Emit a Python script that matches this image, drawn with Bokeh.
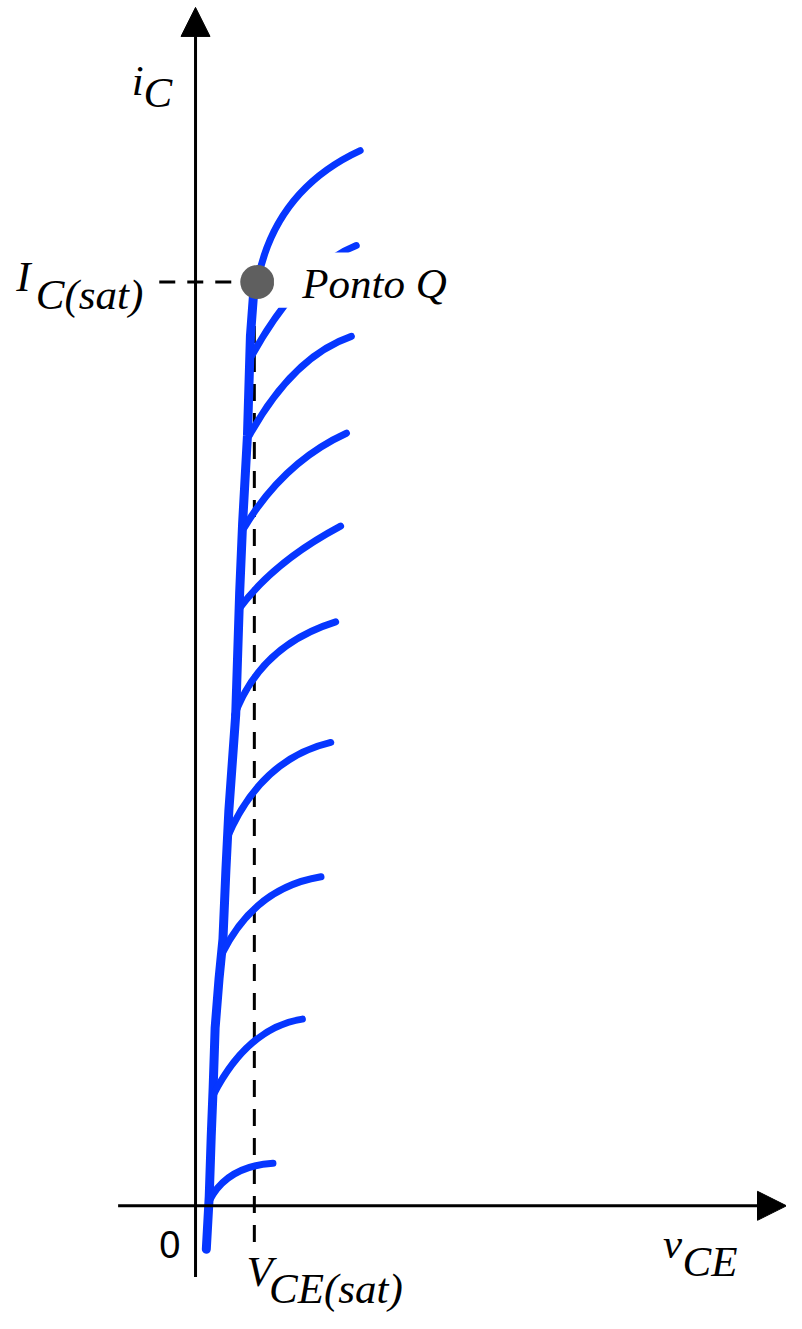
from bokeh.plotting import figure
from bokeh.models import Range1d, Arrow, NormalHead, Label, BoxAnnotation
from bokeh.embed import file_html
from bokeh.resources import INLINE

# ---- data (v_CE in arbitrary volts, i_C in arbitrary mA) ----
VCE_SAT = 0.60
IC_SAT = 9.35
Q_V, Q_I = 0.63, 9.35

# saturation envelope (common rising part of all curves)
env_v = [0.11, 0.14, 0.16, 0.18, 0.20, 0.24, 0.28, 0.31, 0.34, 0.41, 0.45, 0.48, 0.53, 0.56, 0.59, 0.63]
env_i = [-0.44, 0.10, 0.70, 1.20, 1.80, 2.30, 2.70, 3.40, 4.00, 4.97, 6.20, 6.90, 7.80, 8.80, 9.20, 9.35]

# one curve per base current: knee on the envelope, bend (control) point, end point
knee_v = [0.63, 0.57, 0.55, 0.50, 0.45, 0.40, 0.32, 0.28, 0.18, 0.14]
knee_i = [9.35, 8.60, 7.80, 6.87, 6.05, 4.97, 3.72, 2.57, 1.12, 0.05]
bend_v = [0.81, 1.08, 1.00, 0.90, 0.80, 0.66, 0.66, 0.61, 0.53, 0.32]
bend_i = [10.28, 9.50, 8.60, 7.53, 6.52, 5.67, 4.52, 3.22, 1.80, 0.40]
end_v = [1.68, 1.64, 1.59, 1.54, 1.48, 1.43, 1.38, 1.28, 1.09, 0.79]
end_i = [10.68, 9.72, 8.80, 7.82, 6.88, 5.91, 4.69, 3.33, 1.89, 0.43]

BLUE = "#0636ff"
SERIF = "Liberation Serif"
FS = "43px"

p = figure(width=786, height=1313, x_range=Range1d(-1.99, 6.03), y_range=Range1d(-1.09, 12.20),
           x_axis_type=None, y_axis_type=None, toolbar_location=None, output_backend="svg",
           min_border=0, outline_line_color=None, background_fill_color="white",
           border_fill_color="white")
p.xgrid.visible = False
p.ygrid.visible = False

# axes with arrows
head = dict(size=29, fill_color="black", line_color="black", line_width=1)
p.add_layout(Arrow(end=NormalHead(**head), x_start=-0.79, y_start=0, x_end=6.03, y_end=0,
                   line_width=3, line_color="black"))
p.add_layout(Arrow(end=NormalHead(**head), x_start=0, y_start=-0.72, x_end=0, y_end=12.13,
                   line_width=3, line_color="black"))

# dashed reference lines
p.line([-0.37, Q_V - 0.17], [IC_SAT, IC_SAT], line_color="black", line_width=3, line_dash="16 12")
p.line([VCE_SAT, VCE_SAT], [IC_SAT - 0.15, -0.42], line_color="black", line_width=3, line_dash="17 12")

# characteristic curves
p.line(env_v, env_i, line_color=BLUE, line_width=9, line_cap="round", line_join="round")
p.quadratic(x0=knee_v, y0=knee_i, x1=end_v, y1=end_i, cx=bend_v, cy=bend_i,
            line_color=BLUE, line_width=7, line_cap="round")

# white box behind the label
p.add_layout(BoxAnnotation(left=0.80, right=2.59, bottom=9.09, top=9.65, fill_color="white",
                           fill_alpha=1.0, line_color=None))

# Q point
p.scatter([Q_V], [Q_I], size=34, fill_color="#5f5f5f", line_color=None)

def lab(x, y, t, font=SERIF, style="italic", size=FS):
    p.add_layout(Label(x=x, y=y + 0.09, text=t, text_font=font, text_font_style=style,
                       text_font_size=size, text_baseline="alphabetic", text_align="left",
                       text_color="black"))

lab(1.09, 9.25, "Ponto Q")
lab(-1.83, 9.32, "I")
lab(-1.63, 9.13, "C(sat)")
lab(-0.65, 11.30, "i")
lab(-0.53, 11.18, "C")
lab(4.77, -0.47, "v")
lab(4.97, -0.65, "CE")
lab(0.52, -0.75, "V")
lab(0.75, -0.93, "CE(sat)")
lab(-0.37, -0.48, "0", font="Liberation Sans", style="normal", size="38px")

open("out.html", "w").write(file_html(p, INLINE))
